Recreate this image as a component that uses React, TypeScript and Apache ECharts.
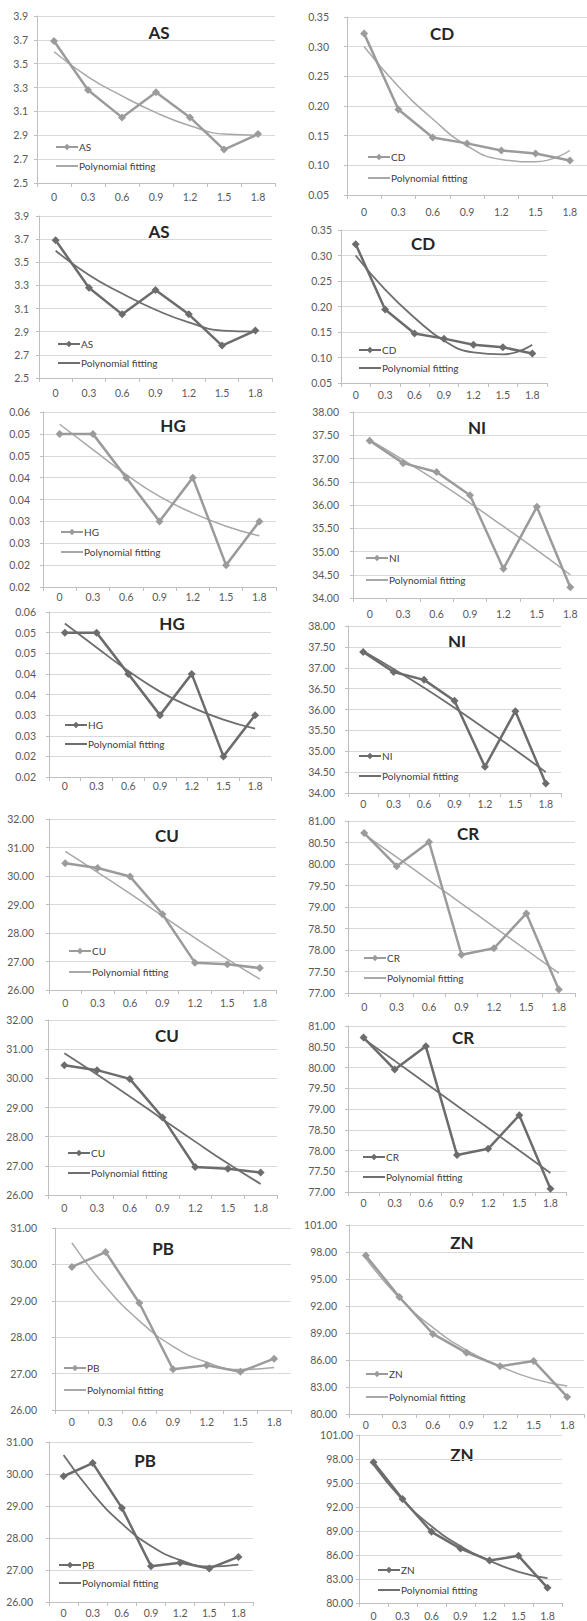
import React, { useEffect, useRef } from 'react';
import * as echarts from 'echarts';

// ---------- data ----------
const X_CATEGORIES = ['0', '0.3', '0.6', '0.9', '1.2', '1.5', '1.8'];
const FIT_NAME = 'Polynomial fitting';

const AS_VALUES = [3.69, 3.28, 3.05, 3.26, 3.05, 2.78, 2.91];
const AS_FIT = [3.6, 3.39, 3.23, 3.09, 2.98, 2.91, 2.9];
const AS_TICKS = ['2.5', '2.7', '2.9', '3.1', '3.3', '3.5', '3.7', '3.9'];
const AS_RANGE = [2.5, 3.9, 0.2];

const CD_VALUES = [0.322, 0.194, 0.147, 0.137, 0.125, 0.12, 0.108];
const CD_FIT = [0.3, 0.233, 0.178, 0.133, 0.11, 0.106, 0.125];
const CD_TICKS = ['0.05', '0.10', '0.15', '0.20', '0.25', '0.30', '0.35'];
const CD_RANGE = [0.05, 0.35, 0.05];

const HG_VALUES = [0.055, 0.055, 0.045, 0.035, 0.045, 0.025, 0.035];
const HG_FIT = [0.0572, 0.0514, 0.0457, 0.0407, 0.0369, 0.0339, 0.0317];
const HG_TICKS = ['0.02', '0.02', '0.03', '0.03', '0.04', '0.04', '0.05', '0.05', '0.06'];
const HG_RANGE = [0.02, 0.06, 0.005];

const NI_VALUES = [37.38, 36.9, 36.71, 36.21, 34.63, 35.96, 34.23];
const NI_FIT = [37.4, 36.97, 36.52, 36.04, 35.54, 35.03, 34.5];
const NI_TICKS = ['34.00', '34.50', '35.00', '35.50', '36.00', '36.50', '37.00', '37.50', '38.00'];
const NI_RANGE = [34, 38, 0.5];

const CU_VALUES = [30.45, 30.28, 29.98, 28.66, 26.96, 26.9, 26.77];
const CU_FIT = [30.86, 30.13, 29.38, 28.6, 27.83, 27.08, 26.38];
const CU_TICKS = ['26.00', '27.00', '28.00', '29.00', '30.00', '31.00', '32.00'];
const CU_RANGE = [26, 32, 1];

const CR_VALUES = [80.72, 79.95, 80.51, 77.89, 78.04, 78.85, 77.08];
const CR_FIT = [80.69, 80.16, 79.62, 79.08, 78.54, 78.0, 77.46];
const CR_TICKS = ['77.00', '77.50', '78.00', '78.50', '79.00', '79.50', '80.00', '80.50', '81.00'];
const CR_RANGE = [77, 81, 0.5];

const PB_VALUES = [29.93, 30.34, 28.94, 27.12, 27.23, 27.05, 27.41];
const PB_FIT = [30.59, 29.39, 28.45, 27.75, 27.31, 27.11, 27.17];
const PB_TICKS = ['26.00', '27.00', '28.00', '29.00', '30.00', '31.00'];
const PB_RANGE = [26, 31, 1];

const ZN_VALUES = [97.6, 93.0, 88.9, 86.8, 85.3, 85.9, 81.9];
const ZN_FIT = [97.3, 92.9, 89.6, 87.1, 85.3, 83.9, 83.1];
const ZN_TICKS = ['80.00', '83.00', '86.00', '89.00', '92.00', '95.00', '98.00', '101.00'];
const ZN_RANGE = [80, 101, 3];

const ELEMENTS: Record<string, { values: number[]; fit: number[]; ticks: string[]; range: number[] }> = {
  AS: { values: AS_VALUES, fit: AS_FIT, ticks: AS_TICKS, range: AS_RANGE },
  CD: { values: CD_VALUES, fit: CD_FIT, ticks: CD_TICKS, range: CD_RANGE },
  HG: { values: HG_VALUES, fit: HG_FIT, ticks: HG_TICKS, range: HG_RANGE },
  NI: { values: NI_VALUES, fit: NI_FIT, ticks: NI_TICKS, range: NI_RANGE },
  CU: { values: CU_VALUES, fit: CU_FIT, ticks: CU_TICKS, range: CU_RANGE },
  CR: { values: CR_VALUES, fit: CR_FIT, ticks: CR_TICKS, range: CR_RANGE },
  PB: { values: PB_VALUES, fit: PB_FIT, ticks: PB_TICKS, range: PB_RANGE },
  ZN: { values: ZN_VALUES, fit: ZN_FIT, ticks: ZN_TICKS, range: ZN_RANGE },
};

// ---------- layout (positions / styles) ----------
const PANELS = [
  { el: 'AS', dark: false, grid: [37, 16, 238, 167], xm: 8, ym: 9, title: [159, 32], legend: [55, 147, 19] },
  { el: 'CD', dark: false, grid: [347, 17, 240, 178], xm: 11, ym: 18, title: [442, 33], legend: [367, 157, 21] },
  { el: 'AS', dark: true, grid: [39, 216, 233, 162], xm: 9, ym: 10, title: [159, 231], legend: [57, 344, 19] },
  { el: 'CD', dark: true, grid: [341, 230, 206, 153], xm: 6, ym: 9, title: [423, 243], legend: [358, 350, 18] },
  { el: 'HG', dark: false, grid: [43, 412, 233, 175], xm: 4, ym: 13, title: [173, 425], legend: [60, 532, 20] },
  { el: 'NI', dark: false, grid: [353, 412, 241, 186], xm: 10, ym: 14, title: [477, 427], legend: [365, 558, 22] },
  { el: 'HG', dark: true, grid: [49, 612, 222, 165], xm: 3, ym: 13, title: [172, 623], legend: [64, 725, 19] },
  { el: 'NI', dark: true, grid: [348, 626, 213, 167], xm: 5, ym: 13, title: [457, 641], legend: [358, 756, 20] },
  { el: 'CU', dark: false, grid: [49, 819, 227, 171], xm: 7, ym: 15, title: [167, 835], legend: [68, 951, 21] },
  { el: 'CR', dark: false, grid: [348, 821, 227, 172], xm: 8, ym: 13, title: [468, 833], legend: [363, 958, 20] },
  { el: 'CU', dark: true, grid: [48, 1020, 229, 175], xm: 7, ym: 15, title: [167, 1035], legend: [67, 1153, 20] },
  { el: 'CR', dark: true, grid: [348, 1026, 218, 166], xm: 5, ym: 13, title: [463, 1037], legend: [362, 1157, 20] },
  { el: 'PB', dark: false, grid: [55, 1228, 236, 182], xm: 6, ym: 18, title: [163, 1248], legend: [63, 1368, 22] },
  { el: 'ZN', dark: false, grid: [349, 1225, 235, 189], xm: 5, ym: 12, title: [462, 1242], legend: [365, 1374, 23] },
  { el: 'PB', dark: true, grid: [49, 1442, 204, 160], xm: 5, ym: 16, title: [145, 1460], legend: [58, 1565, 18] },
  { el: 'ZN', dark: true, grid: [359, 1435, 203, 169], xm: 7, ym: 6, title: [462, 1454], legend: [377, 1570, 20] },
];

const FONT = 'Lato, "Open Sans", sans-serif';
const LIGHT = { data: '#9b9b9b', fit: '#a8a8a8' };
const DARK = { data: '#6c6c6c', fit: '#6e6e6e' };
const AXIS_COLOR = '#bfbfbf';
const GRID_COLOR = '#d9d9d9';
const LABEL_COLOR = '#595959';

function buildOption() {
  const grid: any[] = [];
  const xAxis: any[] = [];
  const yAxis: any[] = [];
  const series: any[] = [];
  const legend: any[] = [];
  const graphic: any[] = [];

  PANELS.forEach((p, i) => {
    const d = ELEMENTS[p.el];
    const [lo, hi, step] = d.range;
    const col = p.dark ? DARK : LIGHT;
    grid.push({ left: p.grid[0], top: p.grid[1], width: p.grid[2], height: p.grid[3], containLabel: false });
    xAxis.push({
      type: 'category',
      gridIndex: i,
      data: X_CATEGORIES,
      boundaryGap: true,
      axisLine: { show: true, lineStyle: { color: AXIS_COLOR, width: 1 } },
      axisTick: { show: true, interval: 0, length: 4, lineStyle: { color: AXIS_COLOR } },
      axisLabel: { interval: 0, margin: p.xm, color: LABEL_COLOR, fontSize: 10.5, fontFamily: FONT },
      splitLine: { show: false },
    });
    yAxis.push({
      type: 'value',
      gridIndex: i,
      min: lo,
      max: hi,
      interval: step,
      axisLine: { show: true, lineStyle: { color: AXIS_COLOR, width: 1 } },
      axisTick: { show: true, length: 3, lineStyle: { color: AXIS_COLOR } },
      axisLabel: {
        margin: p.ym,
        color: LABEL_COLOR,
        fontSize: 10.5,
        fontFamily: FONT,
        formatter: (v: number) => d.ticks[Math.round((v - lo) / step)] ?? '',
      },
      splitLine: { show: true, lineStyle: { color: GRID_COLOR, width: 1 } },
    });
    const dataName = `${p.el}|${i}`;
    const fitName = `${FIT_NAME}|${i}`;
    series.push({
      type: 'line',
      name: dataName,
      xAxisIndex: i,
      yAxisIndex: i,
      data: d.values,
      symbol: 'diamond',
      symbolSize: 8,
      showSymbol: true,
      lineStyle: { color: col.data, width: 2.5 },
      itemStyle: { color: col.data },
      z: 3,
    });
    series.push({
      type: 'line',
      name: fitName,
      xAxisIndex: i,
      yAxisIndex: i,
      data: d.fit,
      smooth: true,
      symbol: 'none',
      showSymbol: false,
      lineStyle: { color: col.fit, width: p.dark ? 1.8 : 1.5 },
      itemStyle: { color: col.fit },
      z: 2,
    });
    legend.push({
      orient: 'vertical',
      left: p.legend[0],
      top: p.legend[1] - 6,
      padding: 0,
      itemWidth: 22,
      itemHeight: 8,
      itemGap: p.legend[2] - 12,
      selectedMode: false,
      data: [
        { name: dataName },
        { name: fitName, itemStyle: { color: 'rgba(0,0,0,0)', opacity: 0, borderWidth: 0 } },
      ],
      formatter: (name: string) => name.split('|')[0],
      textStyle: { fontSize: 10, lineHeight: 12, color: '#404040', fontFamily: FONT, padding: [0, 0, 0, -4] },
    });
    graphic.push({
      type: 'text',
      x: p.title[0],
      y: p.title[1],
      style: {
        text: p.el,
        fill: '#262626',
        font: `bold 17px ${FONT}`,
        fontSize: 17,
        fontWeight: 'bold',
        fontFamily: FONT,
        textAlign: 'center',
        textVerticalAlign: 'middle',
        align: 'center',
        verticalAlign: 'middle',
      },
    });
  });

  return {
    animation: false,
    backgroundColor: '#ffffff',
    grid,
    xAxis,
    yAxis,
    series,
    legend,
    graphic,
  };
}

export default function App() {
  const ref = useRef<HTMLDivElement>(null);
  useEffect(() => {
    if (!ref.current) return;
    const chart = echarts.init(ref.current, undefined, { renderer: 'svg' });
    chart.setOption(buildOption() as any);
    return () => chart.dispose();
  }, []);
  return (
    <div
      ref={ref}
      style={{ position: 'absolute', left: 0, top: 0, width: 587, height: 1621, background: '#fff' }}
    />
  );
}
